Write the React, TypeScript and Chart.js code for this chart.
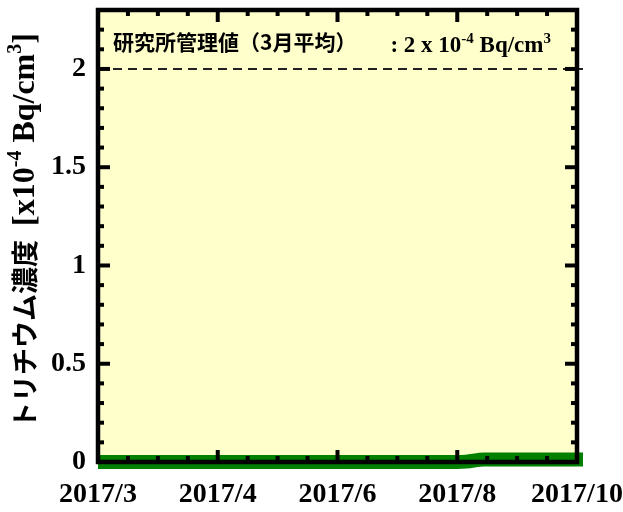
import React, { useEffect, useRef } from 'react';
import { Chart, registerables } from 'chart.js';

Chart.register(...registerables);

// ---- data ----
const xTickValues = [0, 4, 8, 12, 16];
const xTickLabels = ['2017/3', '2017/4', '2017/6', '2017/8', '2017/10'];
const yTickValues = [0, 0.5, 1, 1.5, 2];
const tritiumX = [0, 4, 8, 12, 12.3, 12.9, 16.2];
const tritiumY = [0, 0, 0, 0, 0.002, 0.013, 0.013];
const limitX = [0, 16.2];
const limitY = [2, 2];
const X_MIN = 0;
const X_MAX = 16;
const Y_MIN = 0;
const Y_MAX = 2.3;
const X_MINOR = 1;
const X_MAJOR = 4;
const Y_MINOR = 0.1;
const Y_MAJOR = 0.5;

const SERIF = '"Liberation Serif", "Times New Roman", serif';
const JP = '"Noto Sans CJK JP", sans-serif';

type Part = { text: string; font: string; dy?: number; gap?: number };

const titleParts: Part[] = [
  { text: 'トリチウム濃度', font: `bold 27px ${JP}`, dy: 1 },
  { text: '[x10', font: `bold 32px ${SERIF}`, gap: 14 },
  { text: '-4', font: `bold 20px ${SERIF}`, dy: -13 },
  { text: ' Bq/cm', font: `bold 32px ${SERIF}` },
  { text: '3', font: `bold 20px ${SERIF}`, dy: -13 },
  { text: ']', font: `bold 32px ${SERIF}` },
];

const noteParts: Part[] = [
  { text: '研究所管理値（3月平均）', font: `bold 21px ${JP}`, dy: -2 },
  { text: ': 2 x 10', font: `bold 23px ${SERIF}`, gap: 34 },
  { text: '-4', font: `bold 15px ${SERIF}`, dy: -9 },
  { text: ' Bq/cm', font: `bold 23px ${SERIF}` },
  { text: '3', font: `bold 15px ${SERIF}`, dy: -9 },
];

function measureParts(ctx: CanvasRenderingContext2D, parts: Part[]) {
  let total = 0;
  for (const p of parts) {
    ctx.font = p.font;
    total += (p.gap || 0) + ctx.measureText(p.text).width;
  }
  return total;
}

function drawParts(ctx: CanvasRenderingContext2D, parts: Part[], x: number, y: number) {
  let cx = x;
  ctx.textBaseline = 'alphabetic';
  ctx.textAlign = 'left';
  for (const p of parts) {
    ctx.font = p.font;
    cx += p.gap || 0;
    ctx.fillText(p.text, cx, y + (p.dy || 0));
    cx += ctx.measureText(p.text).width;
  }
}

const framePlugin = {
  id: 'frame',
  beforeDraw(chart: any) {
    const { ctx, chartArea } = chart;
    const { left, right, top, bottom } = chartArea;
    ctx.save();
    ctx.fillStyle = '#FFFFCC';
    ctx.fillRect(left, top, right - left, bottom - top);
    ctx.restore();
  },
  afterDatasetsDraw(chart: any) {
    const { ctx, chartArea, scales } = chart;
    const { left, right, top, bottom } = chartArea;
    const xs = scales.x;
    const ys = scales.y;
    ctx.save();
    ctx.strokeStyle = '#000';
    ctx.lineCap = 'butt';
    ctx.lineWidth = 4;
    const seg = (x1: number, y1: number, x2: number, y2: number) => {
      ctx.beginPath();
      ctx.moveTo(x1, y1);
      ctx.lineTo(x2, y2);
      ctx.stroke();
    };
    const nx = Math.round((X_MAX - X_MIN) / X_MINOR);
    for (let i = 0; i <= nx; i++) {
      const v = X_MIN + i * X_MINOR;
      const r = v / X_MAJOR;
      const major = Math.abs(r - Math.round(r)) < 1e-6;
      const len = major ? 12 : 6;
      const px = xs.getPixelForValue(v);
      seg(px, bottom, px, bottom - len);
      seg(px, top, px, top + len);
    }
    const ny = Math.round((Y_MAX - Y_MIN) / Y_MINOR);
    for (let i = 0; i <= ny; i++) {
      const v = Y_MIN + i * Y_MINOR;
      const r = v / Y_MAJOR;
      const major = Math.abs(r - Math.round(r)) < 1e-6;
      const len = major ? 12 : 6;
      const py = ys.getPixelForValue(v);
      seg(left, py, left + len, py);
      seg(right, py, right - len, py);
    }
    ctx.lineWidth = 4.5;
    ctx.lineJoin = 'miter';
    ctx.strokeRect(left, top, right - left, bottom - top);
    ctx.restore();
  },
  afterDraw(chart: any) {
    const { ctx, chartArea, scales } = chart;
    ctx.save();
    ctx.fillStyle = '#000';
    const total = measureParts(ctx, titleParts);
    const cy = (chartArea.top + chartArea.bottom) / 2 - 5;
    ctx.translate(34, cy);
    ctx.rotate(-Math.PI / 2);
    drawParts(ctx, titleParts, -total / 2, 0);
    ctx.restore();

    ctx.save();
    ctx.fillStyle = '#000';
    drawParts(ctx, noteParts, chartArea.left + 15, scales.y.getPixelForValue(2.1) + 3);
    ctx.restore();
  },
};

export default function App() {
  const ref = useRef<HTMLCanvasElement>(null);
  useEffect(() => {
    if (!ref.current) return;
    const chart = new Chart(ref.current, {
      type: 'line',
      data: {
        datasets: [
          {
            label: 'limit',
            data: limitX.map((x, i) => ({ x, y: limitY[i] })),
            borderColor: '#222',
            borderWidth: 2,
            borderDash: [9, 6],
            pointRadius: 0,
            fill: false,
            clip: false as any,
          },
          {
            label: 'tritium',
            data: tritiumX.map((x, i) => ({ x, y: tritiumY[i] })),
            borderColor: '#008000',
            borderWidth: 14,
            borderCapStyle: 'butt',
            pointRadius: 0,
            fill: false,
            cubicInterpolationMode: 'monotone',
            clip: false as any,
          },
        ],
      },
      options: {
        animation: false,
        responsive: false,
        layout: { padding: 0 },
        plugins: { legend: { display: false }, tooltip: { enabled: false } },
        scales: {
          x: {
            type: 'linear',
            min: X_MIN,
            max: X_MAX,
            grid: { display: false, drawTicks: false },
            border: { display: false },
            afterBuildTicks: (s: any) => {
              s.ticks = xTickValues.map((v) => ({ value: v }));
            },
            afterFit: (s: any) => {
              s.height = 50;
              s.paddingLeft = 0;
              s.paddingRight = 46;
            },
            ticks: {
              autoSkip: false,
              maxRotation: 0,
              minRotation: 0,
              padding: 16,
              color: '#000',
              font: { family: SERIF, size: 28, weight: 'bold' },
              callback: (v: any) => {
                const i = xTickValues.indexOf(Number(v));
                return i >= 0 ? xTickLabels[i] : '';
              },
            },
          },
          y: {
            type: 'linear',
            min: Y_MIN,
            max: Y_MAX,
            grid: { display: false, drawTicks: false },
            border: { display: false },
            afterBuildTicks: (s: any) => {
              s.ticks = yTickValues.map((v) => ({ value: v }));
            },
            afterFit: (s: any) => {
              s.width = 98;
              s.paddingTop = 10;
              s.paddingBottom = 0;
            },
            ticks: {
              padding: 12,
              color: '#000',
              font: { family: SERIF, size: 28, weight: 'bold' },
              callback: (v: any) => String(v),
            },
          },
        },
      } as any,
      plugins: [framePlugin],
    });
    return () => chart.destroy();
  }, []);
  return (
    <div style={{ position: 'absolute', left: 0, top: 0, width: 623, height: 512, background: '#fff' }}>
      <canvas ref={ref} width={623} height={512} />
    </div>
  );
}
